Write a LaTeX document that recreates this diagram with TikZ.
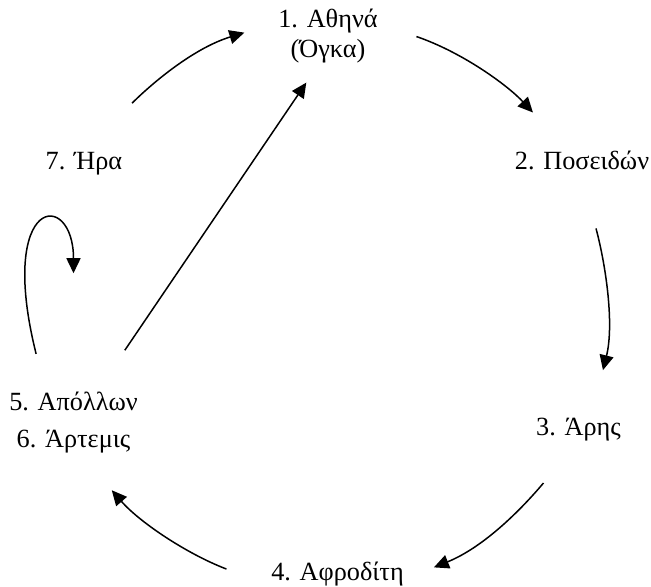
\documentclass[tikz,border=0pt]{standalone}
\usepackage{fontspec}
\setmainfont{Liberation Serif}
\usetikzlibrary{arrows.meta}

\begin{document}
\begin{tikzpicture}
[
    x=0.4pt,y=0.4pt,
    god/.style={inner sep=0pt,outer sep=0pt,anchor=base,text height=7.5pt,text depth=2.5pt,font=\fontsize{10.5pt}{12pt}\selectfont},
    godpair/.style={inner sep=0pt,outer sep=0pt,align=center,font=\fontsize{10.5pt}{12pt}\selectfont},
    link/.style={line width=0.6pt,-{Triangle[length=6pt,width=5.6pt]}}
]
\useasboundingbox (0,0) rectangle (651,586);

\node at (328,549.5) [godpair] (athena) {1. Αθηνά\\(Όγκα)};
\node at (582,416) [god] (poseidon) {2. Ποσειδών};
\node at (578.5,151) [god] (ares) {3. Άρης};
\node at (337.5,6) [god] (aphrodite) {4. Αφροδίτη};
\node at (73.5,176) [god] (apollo) {5. Απόλλων};
\node at (73.5,139) [god] (artemis) {6. Άρτεμις};
\node at (84,416) [god] (hera) {7. Ήρα};

% der Kreis
\draw[link,shorten <=27.2pt,shorten >=14.2pt] (hera.north) to[out=45,in=197] (athena.164);
\draw[link,shorten <=16.4pt,shorten >=21.2pt] (athena.15) to[out=-19,in=133] (poseidon.136);
\draw[link,shorten <=21.6pt,shorten >=19pt] (poseidon.south) to[out=-75,in=76] (ares.44);
\draw[link,shorten <=21.8pt,shorten >=13pt] (ares.south) to[out=-130,in=22] (aphrodite.-5);
\draw[link,shorten <=19.2pt,shorten >=19.6pt] (aphrodite.south west) to[out=159,in=311] (artemis.-64);

% Apollon
\draw[link,shorten <=19.8pt,shorten >=9.2pt] (apollo.28) -- (athena.252);
\draw[link,shorten <=15.4pt,shorten >=47.2pt] (apollo.156) to[out=104,in=90,looseness=18.5] (apollo.north);
\end{tikzpicture}
\end{document}
